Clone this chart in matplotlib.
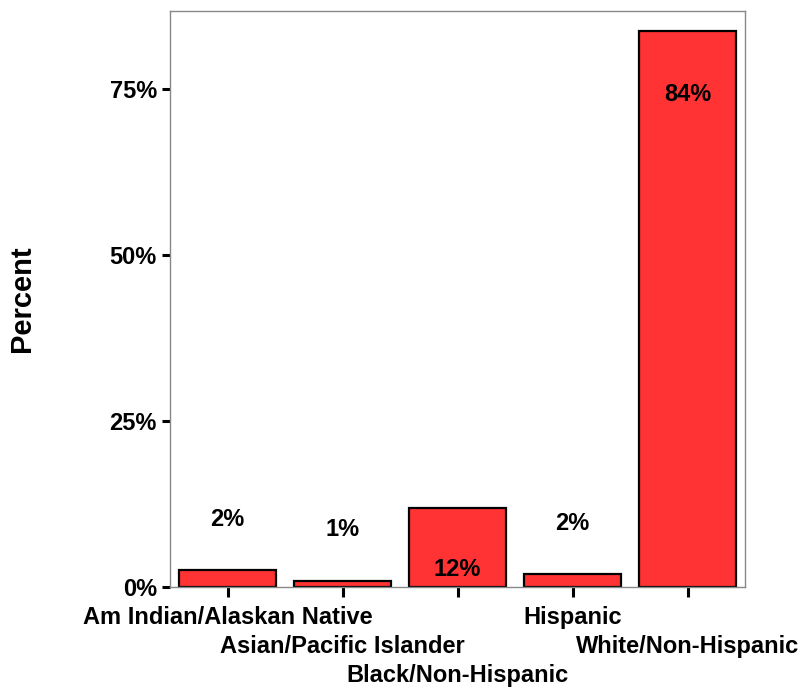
import matplotlib
matplotlib.use("Agg")
import matplotlib.pyplot as plt

plt.rcParams['font.family'] = ['Liberation Sans', 'DejaVu Sans']
plt.rcParams['font.weight'] = 'bold'

# data
categories = ['Am Indian/Alaskan Native', 'Asian/Pacific Islander',
              'Black/Non-Hispanic', 'Hispanic', 'White/Non-Hispanic']
percent = [2.5, 0.9, 11.9, 2.0, 83.8]
value_labels = ['2%', '1%', '12%', '2%', '84%']

# where SPSS put the value labels (y in data units)
label_y = [10.1, 8.6, 2.7, 9.5, 74.2]
# stagger rows for the x tick labels
label_row = [0, 1, 2, 0, 1]

fig = plt.figure(figsize=(8.07, 6.88), dpi=100)
ax = fig.add_axes([0.2107, 0.1468, 0.7125, 0.8372])

x = list(range(len(categories)))
ax.bar(x, percent, width=0.85, color='#FF3333', edgecolor='black', linewidth=1.6, zorder=2)

for xi, yi, txt in zip(x, label_y, value_labels):
    ax.text(xi, yi, txt, ha='center', va='center', fontsize=17, fontweight='bold')

ax.set_xlim(-0.5, 4.5)
ax.set_ylim(0, 86.8)

ax.set_yticks([0, 25, 50, 75])
ax.set_yticklabels(['0%', '25%', '50%', '75%'])
ax.set_xticks(x)
ax.set_xticklabels([])

# staggered category labels, one text per category
for xi, c, r in zip(x, categories, label_row):
    ax.annotate(c, xy=(xi, 0), xycoords=('data', 'axes fraction'),
                xytext=(0, -13.5 - 20.8 * r), textcoords='offset points',
                ha='center', va='top', fontsize=17, fontweight='bold',
                annotation_clip=False)

ax.tick_params(axis='y', length=5.5, width=2.2, pad=4, labelsize=17)
ax.tick_params(axis='x', length=7.5, width=2.2, pad=4, labelsize=17)

for s in ax.spines.values():
    s.set_color('#888888')
    s.set_linewidth(1)

ax.set_ylabel('Percent', fontsize=21, fontweight='bold', labelpad=53)

fig.savefig('out.png', dpi=100)
